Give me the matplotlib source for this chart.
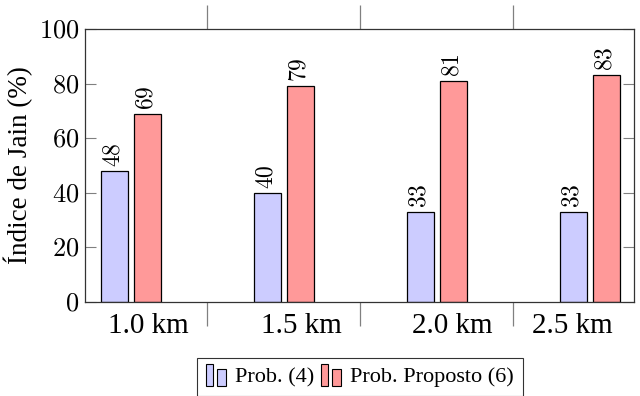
import numpy as np
import matplotlib
matplotlib.use("Agg")
import matplotlib.pyplot as plt
from matplotlib.ticker import FixedLocator
from matplotlib.legend_handler import HandlerBase
from matplotlib.patches import Rectangle

plt.rcParams['font.family'] = ['Liberation Serif', 'DejaVu Serif']
plt.rcParams['mathtext.fontset'] = 'cm'

categories = ["1.0 km", "1.5 km", "2.0 km", "2.5 km"]
prob4 = [48, 40, 33, 33]
proposto6 = [69, 79, 81, 83]
yticks = [0, 20, 40, 60, 80, 100]


class TwoBars(HandlerBase):
    # pgfplots style ybar legend: two little bars
    def create_artists(self, legend, orig, xd, yd, width, height, fontsize, trans):
        fc = orig.patches[0].get_facecolor()
        r1 = Rectangle((xd, yd - 0.25*height), 0.3*width, 1.45*height,
                       facecolor=fc, edgecolor="black", lw=0.8, transform=trans)
        r2 = Rectangle((xd + 0.5*width, yd - 0.25*height), 0.4*width, 1.1*height,
                       facecolor=fc, edgecolor="black", lw=0.8, transform=trans)
        return [r1, r2]


fig = plt.figure(figsize=(6.4, 3.96), dpi=100)
ax = fig.add_axes([85/640, 1-302/396, 549/640, 273/396])

x = np.arange(len(categories))
w = 0.176
off = 0.108
b1 = ax.bar(x - off, prob4, w, color="#ccccff", edgecolor="black", linewidth=0.9)
b2 = ax.bar(x + off, proposto6, w, color="#ff9999", edgecolor="black", linewidth=0.9)

for rect, v in zip(list(b1) + list(b2), prob4 + proposto6):
    ax.text(rect.get_x() + rect.get_width()/2, v + 1.5, "$%d$" % v,
            rotation=90, ha="center", va="bottom", fontsize=17)

ax.set_xlim(-0.30, 3.29)
ax.set_ylim(0, 100)
ax.set_yticks(yticks)
ax.set_yticklabels(["$%d$" % t for t in yticks], fontsize=19)
ax.tick_params(axis="y", direction="in", length=8, color="gray", right=True, pad=4)

ax.set_xticks([])
ax.xaxis.set_minor_locator(FixedLocator(x[:-1] + 0.5))
ax.tick_params(axis="x", which="minor", direction="out", length=17, color="gray",
               top=True, bottom=True, width=0.9)

# category labels (shifted like the original)
lab_x = [148, 301, 452, 572]
for lx, c in zip(lab_x, categories):
    fig.text(lx/640, 1-326/396, c, ha="center", va="center", fontsize=21)

for s in ax.spines.values():
    s.set_linewidth(0.9)
    s.set_color("#333333")

ax.set_ylabel("Índice de Jain (%)", fontsize=19.5, labelpad=4)

leg = fig.legend([b1, b2], ["Prob. (4)", "Prob. Proposto (6)"], loc="upper center",
                 bbox_to_anchor=(360/640, 1-358/396), ncol=2, fontsize=16,
                 frameon=True, fancybox=False, edgecolor="black",
                 handler_map={type(b1): TwoBars()}, borderaxespad=0,
                 handlelength=1.0, handletextpad=0.3, columnspacing=0.3,
                 borderpad=0.4)
leg.get_frame().set_linewidth(0.8)

fig.savefig("out.png", dpi=100)
